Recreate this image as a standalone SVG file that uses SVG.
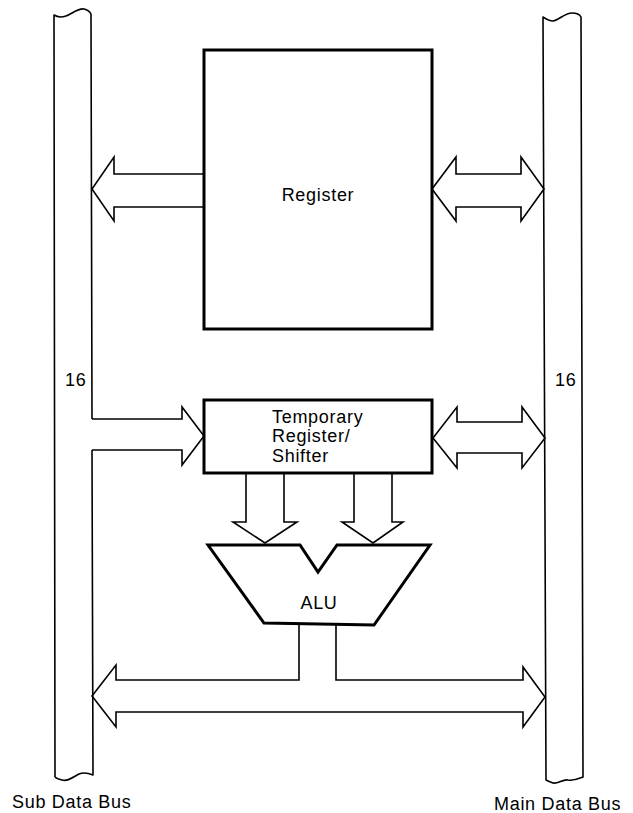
<svg xmlns="http://www.w3.org/2000/svg" width="633" height="813" viewBox="0 0 633 813">
<style>
.bus{fill:none;stroke:#000;stroke-width:1.6;stroke-linejoin:round}
.box{fill:#fff;stroke:#000;stroke-width:3}
.ln{fill:none;stroke:#000;stroke-width:1.6;stroke-linejoin:miter}
.t{font-family:"Liberation Sans",Arial,sans-serif;font-size:18px;letter-spacing:0.7px;fill:#000}
</style>
<rect width="633" height="813" fill="#fff"/>
<g id="sub-data-bus">
<path class="bus" d="M55,777 L54,15 C57,17 60,18 66,16 C72,14 78,8 84,9 C88,10 90,12 91,14 L92,419"/>
<path class="bus" d="M92,450 L93,775 C88,773 84,772 79,774 C73,777 68,782 62,780 C58,779 56,778 55,777"/>
</g>
<g id="main-data-bus">
<path class="bus" d="M543,17 C546,19 549,21 553,21 C559,20 565,13 572,13 C577,13 580,15 581,17 L583,777 C578,779 574,781 568,780 C563,779 558,784 553,783 C550,782 548,781 546,780 Z"/>
</g>
<g id="register">
<rect class="box" x="204" y="50" width="228" height="279"/>
<text class="t" x="318" y="201" text-anchor="middle">Register</text>
</g>
<g id="temporary-register">
<rect class="box" x="204" y="400" width="228" height="73"/>
<text class="t" x="272" y="423">Temporary</text>
<text class="t" x="272" y="442">Register/</text>
<text class="t" x="272" y="462">Shifter</text>
</g>
<g id="alu">
<path class="box" d="M208,545 L300,545 L318,572 L337,545 L430,545 L374,625 L264,623 Z"/>
<text class="t" x="319" y="609" text-anchor="middle">ALU</text>
</g>
<g id="labels">
<text class="t" x="65" y="386">16</text>
<text class="t" x="555" y="386">16</text>
<text class="t" x="12" y="808">Sub Data Bus</text>
<text class="t" x="494" y="810">Main Data Bus</text>
</g>
<g id="connectors">
<path class="ln" d="M204,174 L114,174 L114,157 L92,189 L114,221 L114,207 L204,207"/>
<path class="ln" d="M432,189 L456,157 L456,174 L521,174 L521,157 L544,189 L521,221 L521,207 L456,207 L456,221 Z"/>
<path class="ln" d="M92,419 L182,419 L182,407 L204,436 L182,465 L182,450 L92,450"/>
<path class="ln" d="M433,438 L457,407 L457,422 L522,422 L522,407 L545,438 L522,468 L522,453 L457,453 L457,468 Z"/>
<path class="ln" d="M246,473 L246,522 L233,522 L265,543 L297,522 L284,522 L284,473"/>
<path class="ln" d="M354,473 L354,522 L342,522 L373,543 L403,522 L392,522 L392,473"/>
<path class="ln" d="M299,623 L299,680 L116,680 L116,665 L92,696 L116,727 L116,712 L523,712 L523,727 L545,697 L523,667 L523,680 L336,680 L336,625"/>
</g>
</svg>
